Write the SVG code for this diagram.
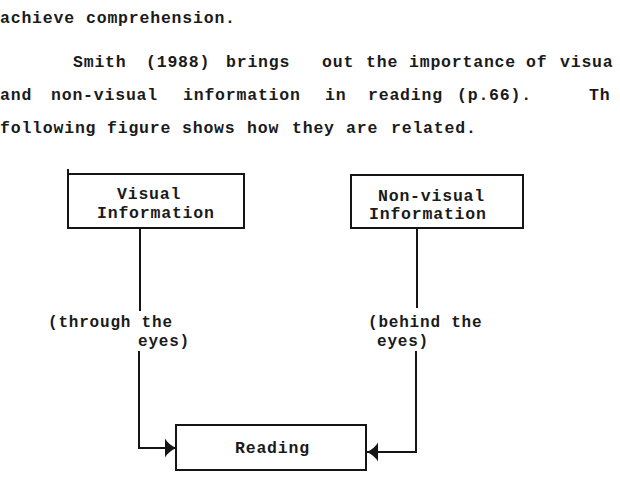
<svg xmlns="http://www.w3.org/2000/svg" width="620" height="504" viewBox="0 0 620 504">
<style>
  text { font-family: "Liberation Mono", "DejaVu Sans Mono", monospace; font-size: 16.5px; font-weight: bold; letter-spacing: 0.8px; fill: #1a1a1a; }
  .lbl { font-size: 16px; }
  .box { fill: #fff; stroke: #151515; stroke-width: 2; }
  .conn { fill: none; stroke: #151515; stroke-width: 2; }
</style>
<defs>
  <marker id="arr" markerUnits="userSpaceOnUse" markerWidth="11" markerHeight="20" viewBox="0 0 11 20" refX="11" refY="10" orient="auto">
    <path d="M0,0.5 Q3,6 11,10 Q3,14 0,19.5 Z" fill="#151515"/>
  </marker>
</defs>
<rect width="620" height="504" fill="#fff"/>
<g id="paragraph">
  <text y="23"><tspan x="0">achieve</tspan><tspan x="86">comprehension.</tspan></text>
  <text y="67"><tspan x="73">Smith</tspan><tspan x="146">(1988)</tspan><tspan x="226">brings</tspan><tspan x="322">out</tspan><tspan x="366">the</tspan><tspan x="409">importance</tspan><tspan x="526">of</tspan><tspan x="560">visua</tspan></text>
  <text y="100"><tspan x="0">and</tspan><tspan x="51">non-visual</tspan><tspan x="183">information</tspan><tspan x="325">in</tspan><tspan x="368">reading</tspan><tspan x="457">(p.66).</tspan><tspan x="589">Th</tspan></text>
  <text y="133"><tspan x="0">following</tspan><tspan x="107">figure</tspan><tspan x="182">shows</tspan><tspan x="247">how</tspan><tspan x="292">they</tspan><tspan x="346">are</tspan><tspan x="391">related.</tspan></text>
</g>
<g id="connectors">
  <path class="conn" d="M140,228 V311 M139,351 V448 H176" marker-end="url(#arr)"/>
  <path class="conn" d="M417,228 V308 M416,351 V452 H367" marker-end="url(#arr)"/>
  <text class="lbl" x="48" y="327">(through the</text>
  <text class="lbl" x="138" y="346">eyes)</text>
  <text class="lbl" x="368" y="327">(behind the</text>
  <text class="lbl" x="377" y="346">eyes)</text>
</g>
<g id="visual">
  <rect class="box" x="68" y="174" width="176" height="54"/>
  <line class="conn" x1="68" y1="169" x2="68" y2="174"/>
  <text x="117" y="199">Visual</text>
  <text x="97" y="218">Information</text>
</g>
<g id="nonvisual">
  <rect class="box" x="351" y="175" width="172" height="53"/>
  <text x="378" y="201">Non-visual</text>
  <text x="369" y="219">Information</text>
</g>
<g id="reading">
  <rect class="box" x="176" y="425" width="190" height="45"/>
  <text x="235" y="453">Reading</text>
</g>
</svg>
